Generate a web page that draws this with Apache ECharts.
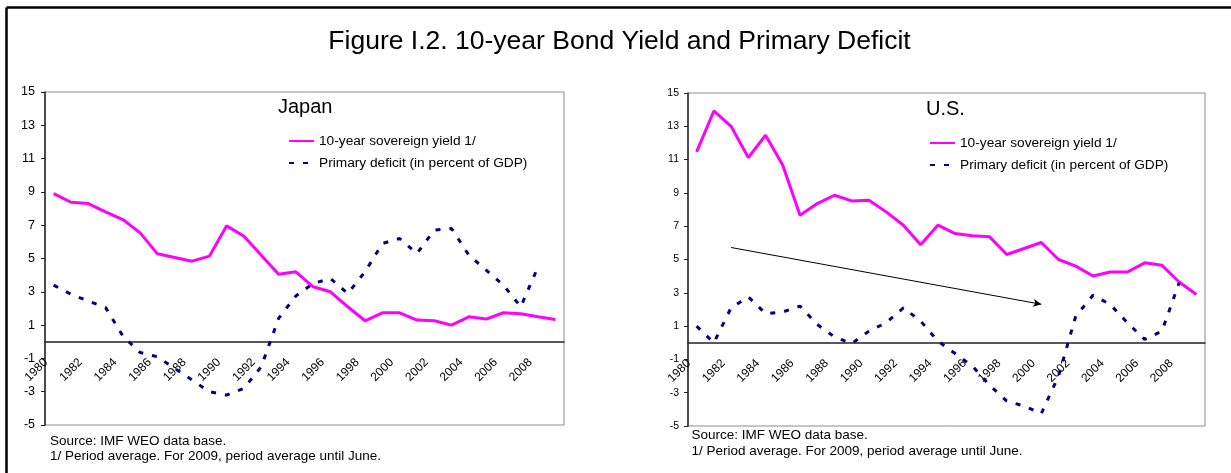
<!DOCTYPE html>
<html><head><meta charset="utf-8">
<script src="https://cdn.jsdelivr.net/npm/echarts@6/dist/echarts.min.js"></script>
<style>html,body{margin:0;padding:0;background:#fff}#c{width:1231px;height:473px}</style>
</head><body><div id="c"></div>
<script>
const years = ['1980','1981','1982','1983','1984','1985','1986','1987','1988','1989',
  '1990','1991','1992','1993','1994','1995','1996','1997','1998','1999',
  '2000','2001','2002','2003','2004','2005','2006','2007','2008','2009'];
const japanYield = [8.9,8.38,8.3,7.8,7.34,6.54,5.28,5.06,4.84,5.14,
  6.96,6.34,5.2,4.06,4.2,3.3,3.0,2.1,1.26,1.74,
  1.74,1.3,1.26,1.0,1.5,1.36,1.74,1.68,1.5,1.34];
const japanDeficit = [3.4,2.85,2.45,2.05,0.35,-0.65,-0.9,-1.6,-2.3,-3.0,
  -3.2,-2.8,-1.5,1.4,2.75,3.5,3.8,2.9,4.2,5.9,
  6.2,5.3,6.7,6.8,5.2,4.3,3.4,2.1,4.5,null];
const usYield = [11.46,13.92,13.0,11.12,12.46,10.66,7.66,8.36,8.86,8.52,
  8.56,7.86,7.06,5.88,7.06,6.56,6.42,6.36,5.3,5.66,
  6.02,5.0,4.6,4.01,4.25,4.25,4.8,4.65,3.65,2.9];
const usDeficit = [1.0,0.0,2.1,2.75,1.75,1.85,2.2,1.1,0.35,-0.05,
  0.7,1.2,2.1,1.3,0.1,-0.65,-1.4,-2.55,-3.5,-3.8,
  -4.25,-2.0,1.6,2.85,2.3,1.2,0.2,0.7,3.6,null];
// trend arrow on the U.S. panel: [category index, value]
const usArrow = [[2, 5.72], [19.5, 2.31]];
const yMin = -5, yMax = 15, yStep = 2;
const seriesNames = ['10-year sovereign yield 1/', 'Primary deficit (in percent of GDP)'];
const mainTitle = 'Figure I.2. 10-year Bond Yield and Primary Deficit';
const panelTitles = ['Japan', 'U.S.'];
const notes = ['Source: IMF WEO data base.', '1/ Period average. For 2009, period average until June.'];

const FONT = '"Liberation Sans", Arial, sans-serif';
const grids = [
  {left: 45, top: 92, width: 519, height: 333},
  {left: 688, top: 93, width: 517, height: 333}
];
const chart = echarts.init(document.getElementById('c'), null, {renderer: 'canvas'});

function xAx(gi, fs) {
  // place the category axis on the zero line of the value axis
  const zeroOffset = -(0 - yMin) / (yMax - yMin) * grids[gi].height;
  return {
    type: 'category', gridIndex: gi, data: years, boundaryGap: true, position: 'bottom',
    offset: zeroOffset,
    axisLine: {onZero: false, lineStyle: {color: '#222', width: 1.5}},
    axisTick: {interval: 0, length: 4, lineStyle: {color: '#222'}},
    axisLabel: {interval: 1, rotate: 45, fontSize: fs, color: '#000', fontFamily: FONT, margin: 11, padding: [0, 11, 0, 0]},
    splitLine: {show: false}
  };
}
function yAx(gi, fs, m) {
  return {
    type: 'value', gridIndex: gi, min: yMin, max: yMax, interval: yStep,
    axisLine: {show: true, onZero: false, lineStyle: {color: '#222', width: 1.5}},
    axisTick: {show: true, length: 4, lineStyle: {color: '#222'}},
    axisLabel: {fontSize: fs, color: '#000', fontFamily: FONT, margin: m},
    splitLine: {show: false}
  };
}
const pink = {color: '#FF00FF', width: 3};
const navy = {color: '#000080', width: 3, type: [5, 9]};
const noteFont = '13.5px ' + FONT;

const option = {
  animation: false,
  backgroundColor: '#fff',
  grid: grids.map(g => Object.assign({show: true, borderColor: '#8c8c8c', borderWidth: 1, containLabel: false}, g)),
  xAxis: [xAx(0, 12), xAx(1, 12)],
  yAxis: [yAx(0, 12.5, 10), yAx(1, 10.5, 9)],
  legend: [
    {orient: 'vertical', left: 283, top: 129, itemWidth: 25, itemHeight: 14, itemGap: 8,
     itemStyle: {opacity: 0},
     data: seriesNames, textStyle: {fontSize: 13.7, color: '#000', fontFamily: FONT}, selectedMode: false},
    {orient: 'vertical', left: 924, top: 131, itemWidth: 25, itemHeight: 14, itemGap: 8,
     itemStyle: {opacity: 0},
     data: seriesNames, textStyle: {fontSize: 13.7, color: '#000', fontFamily: FONT}, selectedMode: false}
  ],
  series: [
    {name: seriesNames[0], type: 'line', xAxisIndex: 0, yAxisIndex: 0, data: japanYield, symbol: 'none', lineStyle: pink, itemStyle: {color: pink.color}},
    {name: seriesNames[1], type: 'line', xAxisIndex: 0, yAxisIndex: 0, data: japanDeficit, symbol: 'none', lineStyle: navy, itemStyle: {color: navy.color}},
    {name: seriesNames[0], type: 'line', xAxisIndex: 1, yAxisIndex: 1, data: usYield, symbol: 'none', lineStyle: pink, itemStyle: {color: pink.color},
     markLine: {silent: true, symbol: ['none', 'arrow'], symbolSize: [6, 8], label: {show: false},
       lineStyle: {color: '#000', width: 1, type: 'solid'},
       data: [[{coord: usArrow[0]}, {coord: usArrow[1]}]]}},
    {name: seriesNames[1], type: 'line', xAxisIndex: 1, yAxisIndex: 1, data: usDeficit, symbol: 'none', lineStyle: navy, itemStyle: {color: navy.color}}
  ],
  graphic: [
    {type: 'line', shape: {x1: 6.5, y1: 7.5, x2: 1231, y2: 7.5}, style: {stroke: '#000', lineWidth: 2.5}, z: 100},
    {type: 'line', shape: {x1: 6.5, y1: 7.5, x2: 6.5, y2: 473}, style: {stroke: '#000', lineWidth: 2.5}, z: 100},
    {type: 'text', x: 619.5, y: 42, style: {text: mainTitle, font: '26.5px ' + FONT, fill: '#000', textAlign: 'center', textVerticalAlign: 'middle'}},
    {type: 'text', x: 278, y: 107, style: {text: panelTitles[0], font: '20px ' + FONT, fill: '#000', textAlign: 'left', textVerticalAlign: 'middle'}},
    {type: 'text', x: 926, y: 109, style: {text: panelTitles[1], font: '20px ' + FONT, fill: '#000', textAlign: 'left', textVerticalAlign: 'middle'}},
    {type: 'text', x: 50, y: 441.5, style: {text: notes[0], font: noteFont, fill: '#000', textAlign: 'left', textVerticalAlign: 'middle'}},
    {type: 'text', x: 50, y: 456.5, style: {text: notes[1], font: noteFont, fill: '#000', textAlign: 'left', textVerticalAlign: 'middle'}},
    {type: 'text', x: 691.5, y: 435, style: {text: notes[0], font: noteFont, fill: '#000', textAlign: 'left', textVerticalAlign: 'middle'}},
    {type: 'text', x: 691.5, y: 451.5, style: {text: notes[1], font: noteFont, fill: '#000', textAlign: 'left', textVerticalAlign: 'middle'}}
  ]
};
chart.setOption(option);
</script></body></html>
